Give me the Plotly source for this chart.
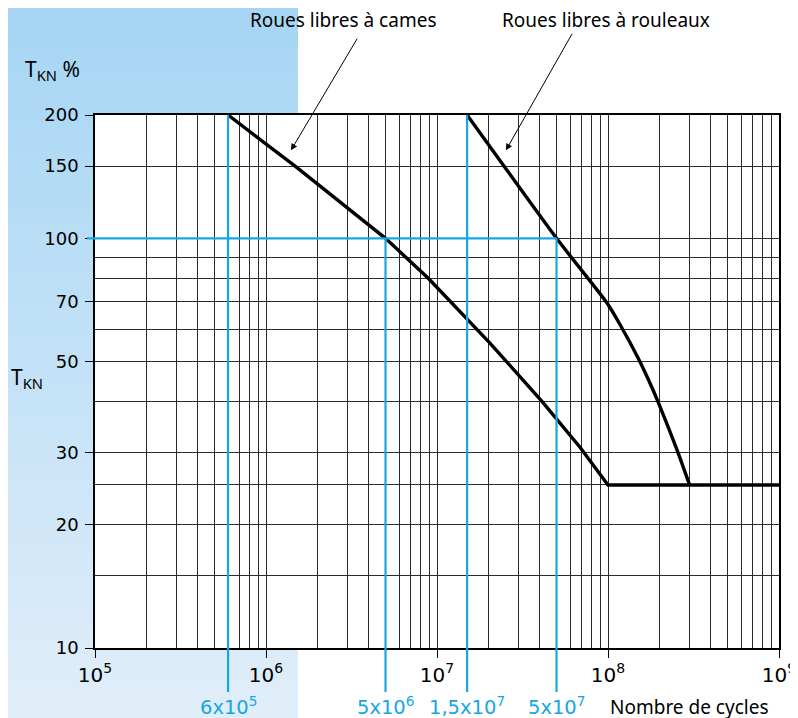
import numpy as np
import plotly.graph_objects as go

# courbe "Roues libres à cames" (nombre de cycles, T_KN %)
cames_x = [6e5, 1.48e6, 5e6, 8.86e6, 2.04e7, 4.11e7, 6.86e7, 1e8, 1e9]
cames_y = [200, 150, 100, 80, 55.5, 40, 30.9, 25, 25]

# courbe "Roues libres à rouleaux"
rouleaux_x = [1.5e7, 5e7, 9.87e7, 1.175e8, 1.497e8, 1.714e8, 1.987e8, 2.53e8, 3e8]
rouleaux_y = [200, 100, 69.5, 61.6, 51.1, 45.4, 39.4, 30.5, 25]

# repères bleus
reperes_x = [6e5, 5e6, 1.5e7, 5e7]
reperes_haut = [200, 100, 200, 100]
reperes_txt = ["6x10<sup>5</sup>", "5x10<sup>6</sup>", "1,5x10<sup>7</sup>", "5x10<sup>7</sup>"]

x_ticks = [1e5, 1e6, 1e7, 1e8, 1e9]
x_ticktext = ["10<sup>5</sup>", "10<sup>6</sup>", "10<sup>7</sup>", "10<sup>8</sup>", "10<sup>9</sup>"]
x_minor = [m * 10 ** e for e in range(5, 9) for m in range(2, 10)]
y_ticks = [10, 20, 30, 50, 70, 100, 150, 200]
y_minor = [15, 25, 40, 60, 80, 90]

BLEU = "#17a6e4"
TXT = "Noto Sans"
NUM = "DejaVu Sans"
OFF = 8  # marge du <body> de la page
W, H = 798 - OFF, 718 - OFF
L, R, T, B = 95 - OFF, 19, 115 - OFF, 70
PW, PH = W - L - R, H - T - B


def px(xp):
    return (xp - OFF - L) / PW


def py(yp):
    return (H - B - (yp - OFF)) / PH


def ylog(v):
    return (np.log10(v) - 1) / np.log10(20)


fig = go.Figure()
fig.add_trace(go.Scatter(x=cames_x, y=cames_y, mode="lines",
                         line=dict(color="black", width=3.4)))
fig.add_trace(go.Scatter(x=rouleaux_x, y=rouleaux_y, mode="lines",
                         line=dict(color="black", width=3.4, shape="spline", smoothing=0.5)))

shapes = []
# fond dégradé bleu à gauche
n = 60
top = np.array([166, 214, 244])
bot = np.array([224, 238, 250])
for i in range(n):
    c = top + (bot - top) * i / (n - 1)
    y0p, y1p = i * 718 / n, (i + 1) * 718 / n + 0.5
    shapes.append(dict(type="rect", xref="paper", yref="paper",
                       x0=px(0), x1=px(298), y0=py(y1p), y1=py(y0p),
                       fillcolor="rgb(%d,%d,%d)" % tuple(c), line_width=0, layer="below"))
shapes.append(dict(type="rect", xref="paper", yref="paper", x0=0, x1=1, y0=0, y1=1,
                   fillcolor="white", line_width=0, layer="below"))

for xv, yh in zip(reperes_x, reperes_haut):
    shapes.append(dict(type="line", xref="x", yref="paper", x0=xv, x1=xv,
                       y0=py(692), y1=ylog(yh), line=dict(color=BLEU, width=2.2), layer="above"))
shapes.append(dict(type="line", xref="paper", yref="y", x0=px(87), x1=(np.log10(5e7) - 5) / 4,
                   y0=100, y1=100, line=dict(color=BLEU, width=2.2), layer="above"))


def texte(x, y, t, size, family=TXT, color="black", xanchor="center", xref="paper"):
    return dict(x=x, y=y, xref=xref, yref="paper", text=t, showarrow=False,
                xanchor=xanchor, yanchor="middle",
                font=dict(size=size, family=family, color=color))


ann = []
for xv, t in zip(reperes_x, reperes_txt):
    ann.append(texte(np.log10(xv), py(706), t, 19.5, NUM, BLEU, xref="x"))
ann.append(texte(px(608), py(707), "Nombre de cycles", 19, xanchor="left"))
ann.append(texte(px(52), py(70), "T<sub>KN</sub> %", 21))
ann.append(texte(px(27), py(378), "T<sub>KN</sub>", 21))
ann.append(texte(px(343), py(20), "Roues libres à cames", 19))
ann.append(texte(px(606), py(20), "Roues libres à rouleaux", 19))
for hx, hy, dx, dy in [(1.40e6, 164, 67, -113), (2.53e7, 164, 67, -118)]:
    ann.append(dict(x=np.log10(hx), y=np.log10(hy), xref="x", yref="y", text="",
                    showarrow=True, ax=dx, ay=dy, arrowhead=2, arrowsize=1.3,
                    arrowwidth=1, arrowcolor="black"))

fig.update_layout(
    width=W, height=H, autosize=False,
    margin=dict(l=L, r=R, t=T, b=B),
    paper_bgcolor="white", plot_bgcolor="white",
    showlegend=False,
    shapes=shapes, annotations=ann,
    font=dict(family=TXT, color="black"),
)
fig.update_xaxes(type="log", range=[5, 9], tickvals=x_ticks, ticktext=x_ticktext,
                 ticks="outside", ticklen=8, tickcolor="black", tickwidth=1,
                 showgrid=True, gridcolor="#2a2a2a", gridwidth=1,
                 showline=True, linecolor="black", linewidth=1.5, mirror=True,
                 tickfont=dict(size=20, family=NUM, color="black"), automargin=False,
                 minor=dict(tickvals=x_minor, showgrid=True, gridcolor="#2a2a2a", gridwidth=1, ticks=""),
                 zeroline=False)
fig.update_yaxes(type="log", range=[1, np.log10(200)], tickvals=y_ticks, ticktext=[str(v) for v in y_ticks],
                 ticks="outside", ticklen=8, tickcolor="black", tickwidth=1,
                 showgrid=True, gridcolor="#2a2a2a", gridwidth=1,
                 showline=True, linecolor="black", linewidth=1.5, mirror=True,
                 tickfont=dict(size=18, family=NUM, color="black"), ticklabelstandoff=3,
                 automargin=False,
                 minor=dict(tickvals=y_minor, showgrid=True, gridcolor="#2a2a2a", gridwidth=1, ticks=""),
                 zeroline=False)

fig.write_html("out.html")
